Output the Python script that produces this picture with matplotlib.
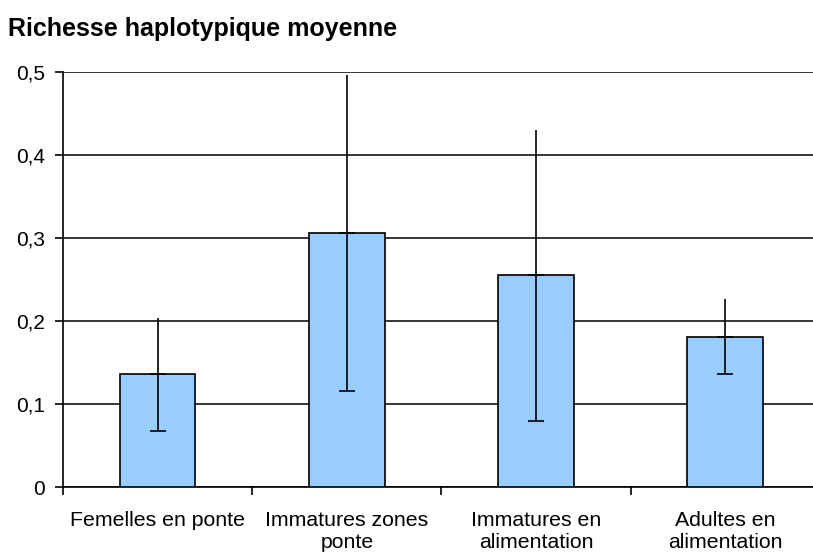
import numpy as np
import matplotlib.pyplot as plt
from matplotlib.ticker import FuncFormatter

plt.rcParams['font.family'] = ['Liberation Sans', 'DejaVu Sans']

groupes = ['Femelles en ponte', 'Immatures zones\nponte',
           'Immatures en\nalimentation', 'Adultes en\nalimentation']
richesse = [0.136, 0.306, 0.255, 0.181]
erreur = [0.068, 0.190, 0.175, 0.045]

fig = plt.figure(figsize=(8.13, 5.54), dpi=100)
ax = fig.add_axes([0.0775, 0.1209, 0.931, 0.749])

x = np.arange(len(groupes))
zeros = np.zeros(len(groupes))
ax.bar(x, richesse, width=0.4, color='#99ccff', edgecolor='black', lw=1.2, zorder=3)
# lower half with a cap, upper half plain
ax.errorbar(x, richesse, yerr=[erreur, zeros], fmt='none', ecolor='black',
            elinewidth=1.2, capsize=6, capthick=1.2, zorder=4)
ax.vlines(x, richesse, np.array(richesse) + np.array(erreur), color='black',
          lw=1.2, zorder=4)

ax.set_xlim(-0.5, len(groupes) - 0.5)
ax.set_ylim(0, 0.5)
ax.set_yticks(np.arange(0, 0.51, 0.1))
ax.yaxis.set_major_formatter(FuncFormatter(lambda v, p: '0' if v == 0 else f'{v:.1f}'.replace('.', ',')))
ax.yaxis.grid(True, color='black', lw=1.1, zorder=0)

# category labels centred, tick marks between categories
ax.set_xticks(np.arange(-0.5, len(groupes)), minor=False)
ax.set_xticklabels([])
ax.set_xticks(x, minor=True)
ax.set_xticklabels(groupes, minor=True, fontsize=15.3, linespacing=1.2)
ax.tick_params(axis='x', which='minor', length=0, pad=17)
ax.tick_params(axis='x', which='major', length=6, width=1.2, direction='out')
ax.tick_params(axis='y', length=6, width=1.2, labelsize=15, pad=7)

for s in ['top', 'right']:
    ax.spines[s].set_visible(False)
for s in ['left', 'bottom']:
    ax.spines[s].set_linewidth(1.2)

fig.text(0.01, 0.948, 'Richesse haplotypique moyenne', fontsize=18,
         fontweight='bold', va='center', ha='left')

fig.savefig('out.png', dpi=100)
